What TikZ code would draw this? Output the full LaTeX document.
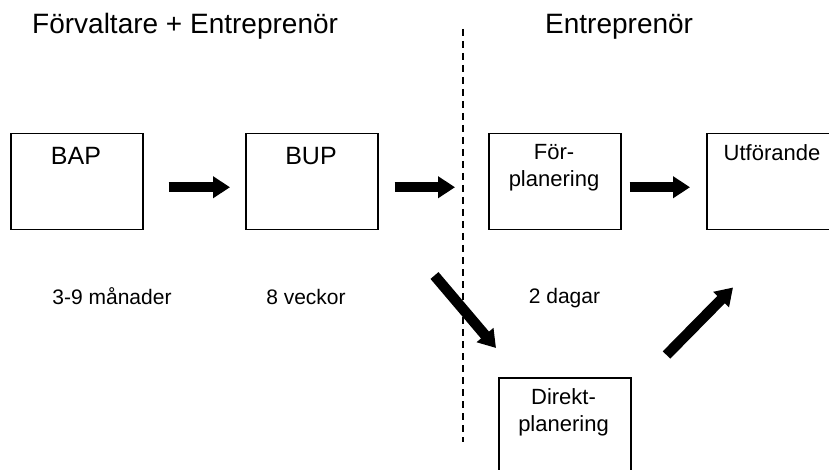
\documentclass[tikz,border=0pt]{standalone}
\usepackage{fontspec}
\setmainfont{Liberation Sans}
\usetikzlibrary{arrows.meta,calc}
\begin{document}
\begin{tikzpicture}[x=1pt,y=-1pt,
  box/.style={draw,line width=1.5pt,rectangle,minimum width=132pt,minimum height=96pt,anchor=north west,inner sep=0pt},
  boxtxtbig/.style={font=\fontsize{25}{30}\selectfont,anchor=base,inner sep=0pt},
  boxtxt/.style={font=\fontsize{22}{27}\selectfont,anchor=base,inner sep=0pt,align=center},
  lbl/.style={font=\fontsize{21}{25}\selectfont,anchor=base,inner sep=0pt},
  ttl/.style={font=\fontsize{28}{33}\selectfont,anchor=base west,inner sep=0pt},
  blockarrow/.style={line width=10.5pt,-{Triangle[length=17pt,width=21pt]}},
  divider/.style={line width=1.3pt,dash pattern=on 7pt off 5pt}]
\clip (0,0) rectangle (829,470);
\fill[white] (0,0) rectangle (829,470);
% titles
\node[ttl] (t1) at (32,34) {Förvaltare + Entreprenör};
\node[ttl] (t2) at (545,34) {Entreprenör};
% divider
\coordinate (dtop) at (463,29);
\coordinate (dbot) at (463,442);
\draw[divider] (dtop) -- (dbot);
% boxes
\node[box] (bap) at (10,133) {};
\node[box] (bup) at (245,133) {};
\node[box] (forp) at (488,133) {};
\node[box] (utf) at (706,133) {};
\node[box] (direkt) at (498,377) {};
% box texts
\node[boxtxtbig] (bapt) at (76,165) {BAP};
\node[boxtxtbig] (bupt) at (311,165) {BUP};
\node[boxtxt] (forpt) at (554,187) {För-\\planering};
\node[boxtxt] (utft) at (772,161) {Utförande};
\node[boxtxt] (direktt) at (563.5,431) {Direkt-\\planering};
% labels
\node[lbl] (l1) at (112,304) {3-9 månader};
\node[lbl] (l2) at (306,304) {8 veckor};
\node[lbl] (l3) at (564.5,303) {2 dagar};
% arrows
\draw[blockarrow,shorten <=25pt,shorten >=15pt] ([yshift=-5.5pt]bap.east) -- ([yshift=-5.5pt]bup.west);
\draw[blockarrow,shorten <=16pt,shorten >=33pt] ([yshift=-5.5pt]bup.east) -- ([yshift=-5.5pt]forp.west);
\draw[blockarrow,shorten <=8pt,shorten >=16pt] ([yshift=-5.5pt]forp.east) -- ([yshift=-5.5pt]utf.west);
\draw[blockarrow] ($(bup.south east)+(56,45)$) -- ($(direkt.north west)+(-2,-29)$);
\draw[blockarrow] ($(direkt.north east)+(35,-22)$) -- ($(utf.south west)+(27,57)$);
\end{tikzpicture}
\end{document}
